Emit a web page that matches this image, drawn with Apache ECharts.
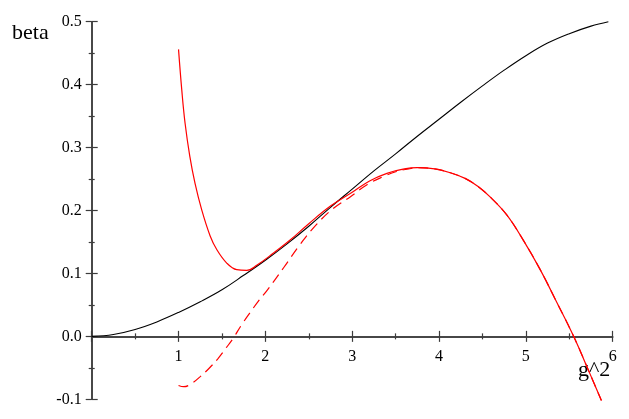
<!DOCTYPE html>
<html>
<head>
<meta charset="utf-8">
<script src="https://cdn.jsdelivr.net/npm/echarts@6/dist/echarts.min.js"></script>
<style>html,body{margin:0;padding:0;background:#fff;}#c{width:629px;height:419px;}</style>
</head>
<body>
<div id="c"></div>
<script>
// x-axis (g^2) and y-axis (beta) settings
const xTicks = [0, 1, 2, 3, 4, 5, 6];
const yTicks = [-0.1, 0.0, 0.1, 0.2, 0.3, 0.4, 0.5];
const xTitle = 'g^2';
const yTitle = 'beta';

// black curve
const blackX = [0, 0.25, 0.5, 0.75, 1, 1.25, 1.5, 1.75, 2, 2.25, 2.5, 2.75, 3, 3.25, 3.5, 3.75, 4, 4.25, 4.5, 4.75, 5, 5.25, 5.5, 5.75, 5.95];
const blackY = [0, 0.003, 0.011, 0.023, 0.038, 0.055, 0.074, 0.097, 0.121, 0.147, 0.175, 0.205, 0.234, 0.263, 0.290, 0.318, 0.345, 0.372, 0.398, 0.423, 0.446, 0.466, 0.481, 0.493, 0.500];

// solid red curve
const redX = [1.00, 1.037, 1.075, 1.13, 1.19, 1.267, 1.363, 1.44, 1.555, 1.67, 1.786, 1.90, 2.09, 2.285, 2.5, 2.75, 3.0, 3.2, 3.4, 3.6, 3.75, 3.95, 4.13, 4.3, 4.45, 4.6, 4.78, 4.97, 5.165, 5.36, 5.55, 5.74, 5.87];
const redY = [0.456, 0.392, 0.339, 0.286, 0.243, 0.201, 0.160, 0.138, 0.1165, 0.106, 0.105, 0.113, 0.132, 0.153, 0.179, 0.207, 0.229, 0.247, 0.259, 0.266, 0.268, 0.266, 0.260, 0.251, 0.238, 0.220, 0.193, 0.153, 0.106, 0.053, 0.0, -0.060, -0.102];

// dashed red curve
const dashX = [1.0, 1.06, 1.15, 1.25, 1.35, 1.45, 1.55, 1.63, 1.72, 1.82, 1.92, 2.02, 2.21, 2.4, 2.59, 2.78, 2.98, 3.17, 3.36, 3.51, 3.65, 3.75, 3.95, 4.13, 4.3, 4.45, 4.6, 4.78, 4.97, 5.165, 5.36, 5.55, 5.74, 5.87];
const dashY = [-0.078, -0.080, -0.075, -0.064, -0.051, -0.036, -0.018, -0.003, 0.017, 0.037, 0.056, 0.073, 0.109, 0.146, 0.178, 0.203, 0.222, 0.241, 0.254, 0.262, 0.266, 0.268, 0.266, 0.260, 0.251, 0.238, 0.220, 0.193, 0.153, 0.106, 0.053, 0.0, -0.060, -0.102];

const zip = (xs, ys) => xs.map((x, i) => [x, ys[i]]);
const serif = '"Liberation Serif", "DejaVu Serif", serif';
const axisColor = '#3c3c3c';

// plot area layout (pixels)
const W = 629, H = 419;
const gLeft = 91.7, gRight = 16.3, gTop = 21.7, gBottom = 19.7;
const yMin = yTicks[0], yMax = yTicks[yTicks.length - 1];
const zeroPx = gTop + (yMax - 0) / (yMax - yMin) * (H - gTop - gBottom);

const chart = echarts.init(document.getElementById('c'), null, {renderer: 'canvas'});
const tickStyle = {color: axisColor, width: 1.2};
const xBase = {
  type: 'value', min: xTicks[0], max: xTicks[xTicks.length - 1], interval: 1,
  splitLine: {show: false},
  minorTick: {show: true, splitNumber: 2, length: 3, lineStyle: tickStyle},
  minorSplitLine: {show: false}
};
const yBase = {
  type: 'value', min: yMin, max: yMax, interval: 0.1,
  splitLine: {show: false},
  minorTick: {show: true, splitNumber: 2, length: 3, lineStyle: tickStyle},
  minorSplitLine: {show: false}
};
chart.setOption({
  animation: false,
  grid: [
    {left: gLeft, right: gRight, top: gTop, bottom: gBottom, containLabel: false, outerBoundsMode: 'none'},
    {left: gLeft, right: gRight, top: zeroPx, height: 40, containLabel: false, outerBoundsMode: 'none'}
  ],
  xAxis: [
    Object.assign({}, xBase, {
      gridIndex: 0, position: 'bottom',
      axisLine: {show: true, onZero: true, onZeroAxisIndex: 0, lineStyle: {color: axisColor, width: 1.5}},
      axisTick: {show: true, length: 5.5, inside: false, lineStyle: tickStyle},
      axisLabel: {show: false}
    }),
    Object.assign({}, xBase, {
      gridIndex: 0, position: 'top',
      axisLine: {show: true, onZero: true, onZeroAxisIndex: 1, lineStyle: {color: axisColor, width: 1.5}},
      axisTick: {show: true, length: 5.5, inside: false, lineStyle: tickStyle},
      axisLabel: {show: false}
    }),
    // tick labels under the zero line
    {
      type: 'value', gridIndex: 1, position: 'top', min: xTicks[0], max: xTicks[xTicks.length - 1], interval: 1,
      splitLine: {show: false}, axisLine: {show: false, onZero: false}, axisTick: {show: false},
      axisLabel: {show: true, inside: true, margin: 12, color: '#000', fontFamily: serif, fontSize: 16,
        showMaxLabel: true, formatter: v => (v === 0 ? '' : String(v))}
    }
  ],
  yAxis: [
    Object.assign({}, yBase, {
      gridIndex: 0, position: 'left',
      axisLine: {show: true, onZero: true, onZeroAxisIndex: 0, lineStyle: {color: axisColor, width: 1.5}},
      axisTick: {show: true, length: 6, inside: false, lineStyle: tickStyle},
      axisLabel: {show: true, margin: 10, color: '#000', fontFamily: serif, fontSize: 16,
        padding: [6, 0, 0, 0], formatter: v => v.toFixed(1)}
    }),
    Object.assign({}, yBase, {
      gridIndex: 0, position: 'right',
      axisLine: {show: true, onZero: true, onZeroAxisIndex: 1, lineStyle: {color: axisColor, width: 1.5}},
      axisTick: {show: true, length: 6, inside: false, lineStyle: tickStyle},
      axisLabel: {show: false}
    }),
    {type: 'value', gridIndex: 1, show: false, min: 0, max: 1}
  ],
  graphic: [
    {type: 'text', left: 12, top: 22, style: {text: yTitle, font: '22px ' + serif, fill: '#000'}},
    {type: 'text', left: 578, top: 359, style: {text: xTitle, font: '22px ' + serif, fill: '#000'}}
  ],
  series: [
    {type: 'line', name: 'black', data: zip(blackX, blackY), showSymbol: false, smooth: 0.4,
      clip: false, lineStyle: {color: '#000', width: 1.1}},
    {type: 'line', name: 'red', data: zip(redX, redY), showSymbol: false, smooth: 0.4,
      clip: false, lineStyle: {color: '#ff0000', width: 1.2}},
    {type: 'line', name: 'dashed', data: zip(dashX, dashY), showSymbol: false, smooth: 0.4,
      clip: false, lineStyle: {color: '#ff0000', width: 1.2, type: [10, 6]}}
  ]
});
</script>
</body>
</html>
